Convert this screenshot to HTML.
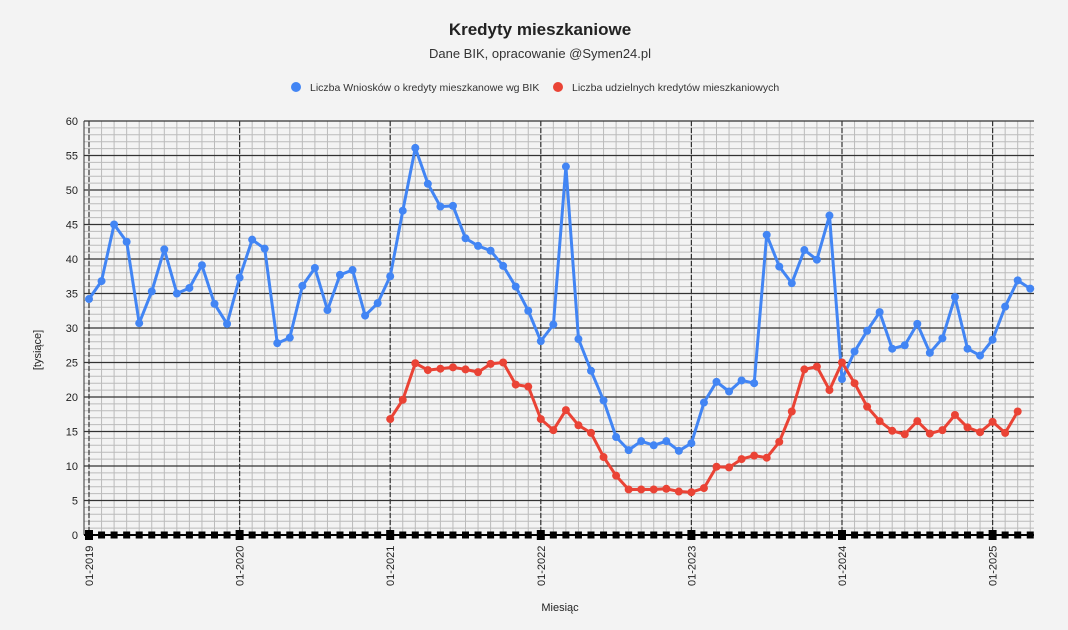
<!DOCTYPE html>
<html><head><meta charset="utf-8"><style>
body{margin:0;background:#f3f3f3;font-family:"Liberation Sans",sans-serif}
svg{display:block}
</style></head><body>
<svg id="c" width="1068" height="630" xmlns="http://www.w3.org/2000/svg">
<rect width="1068" height="630" fill="#f3f3f3"/>
<text x="540" y="35" text-anchor="middle" font-size="17" font-weight="bold" fill="#222">Kredyty mieszkaniowe</text>
<text x="540" y="58" text-anchor="middle" font-size="13" fill="#333">Dane BIK, opracowanie @Symen24.pl</text>
<g>
<circle cx="296" cy="87" r="5" fill="#4285f4"/>
<text x="310" y="91" font-size="10.5" fill="#333">Liczba Wniosków o kredyty mieszkanowe wg BIK</text>
<circle cx="558" cy="87" r="5" fill="#ea4335"/>
<text x="572" y="91" font-size="10.5" fill="#333">Liczba udzielnych kredytów mieszkaniowych</text>
</g>
<text transform="translate(41,350) rotate(-90)" text-anchor="middle" font-size="11" fill="#222">[tysiące]</text>
<text x="560" y="611" text-anchor="middle" font-size="11" fill="#222">Miesiąc</text>
<g id="grid"></g><g id="marks"></g>
</svg>
<script>
const yTicks=[0,5,10,15,20,25,30,35,40,45,50,55,60];
const yearLabels=["01-2019","01-2020","01-2021","01-2022","01-2023","01-2024","01-2025"];
const applications=[34.2,36.8,45,42.5,30.7,35.3,41.4,35,35.8,39.1,33.5,30.6,
37.3,42.8,41.5,27.8,28.6,36.1,38.7,32.6,37.7,38.4,31.8,33.6,
37.5,47,56.1,50.9,47.6,47.7,43,41.9,41.2,39,36,32.5,
28.1,30.5,53.4,28.4,23.8,19.5,14.2,12.3,13.6,13,13.6,12.2,
13.3,19.2,22.2,20.8,22.4,22,43.5,38.9,36.5,41.3,39.9,46.3,
22.6,26.6,29.6,32.3,27,27.5,30.6,26.4,28.5,34.5,27,26,
28.3,33.1,36.9,35.7];
const loansStart=24;
const loans=[16.8,19.6,24.9,23.9,24.1,24.3,24,23.6,24.8,25,21.8,21.5,
16.8,15.2,18.1,15.9,14.8,11.3,8.6,6.6,6.6,6.6,6.7,6.3,
6.2,6.8,9.9,9.8,11,11.5,11.2,13.5,17.9,24,24.4,21,
25,22,18.6,16.5,15.1,14.6,16.5,14.7,15.2,17.4,15.6,14.9,
16.4,14.8,17.9];
const NS="http://www.w3.org/2000/svg";
const L=84,R=1034,T=121,B=535,x0=89,mw=12.55;
const X=i=>x0+i*mw, Y=v=>B-(v/60)*(B-T);
const g=document.getElementById('grid'),m=document.getElementById('marks');
function el(p,t,a){const e=document.createElementNS(NS,t);for(const k in a)e.setAttribute(k,a[k]);p.appendChild(e);return e;}
const nMonths=Math.floor((R-x0)/mw)+1;
for(let v=0;v<=60;v++){const l=el(g,'line',{x1:L,x2:R,y1:Y(v),y2:Y(v),stroke:'#bbb','stroke-width':1});

}
for(let i=0;i<nMonths;i++){const l=el(g,'line',{x1:X(i),x2:X(i),y1:T,y2:B,stroke:'#bbb','stroke-width':1});

}
yTicks.forEach(v=>{const l=el(g,'line',{x1:L,x2:R,y1:Y(v),y2:Y(v),stroke:'#333','stroke-width':1.2});


const t=el(g,'text',{x:L-6,y:Y(v)+4,'text-anchor':'end','font-size':11,fill:'#222'});t.textContent=v;

});
yearLabels.forEach((s,k)=>{const x=X(k*12);
const l=el(g,'line',{x1:x,x2:x,y1:T,y2:B,stroke:'#333','stroke-width':1.2,'stroke-dasharray':'5,2'});


const t=el(g,'text',{transform:`translate(${x+4},586) rotate(-90)`,'font-size':11,fill:'#222'});t.textContent=s;

});
el(g,'line',{x1:L,x2:L,y1:T,y2:B,stroke:'#333','stroke-width':1});
el(g,'line',{x1:L,x2:R,y1:B,y2:B,stroke:'#000','stroke-width':2});
for(let i=0;i<nMonths;i++){const big=i%12===0;const w=big?8:7,h=big?10:7;
const r=el(g,'rect',{x:X(i)-w/2,y:B-h/2,width:w,height:h,fill:'#000'});

}
function series(vals,start,color,name){
const pts=vals.map((v,i)=>X(i+start).toFixed(1)+','+Y(v).toFixed(1)).join(' ');
const p=el(m,'polyline',{points:pts,fill:'none',stroke:color,'stroke-width':3,'stroke-linejoin':'round'});


vals.forEach((v,i)=>{const c=el(m,'circle',{cx:X(i+start),cy:Y(v),r:4,fill:color});

});}
series(applications,0,'#4285f4','applications');
series(loans,loansStart,'#ea4335','loans');
</script>
</body></html>
